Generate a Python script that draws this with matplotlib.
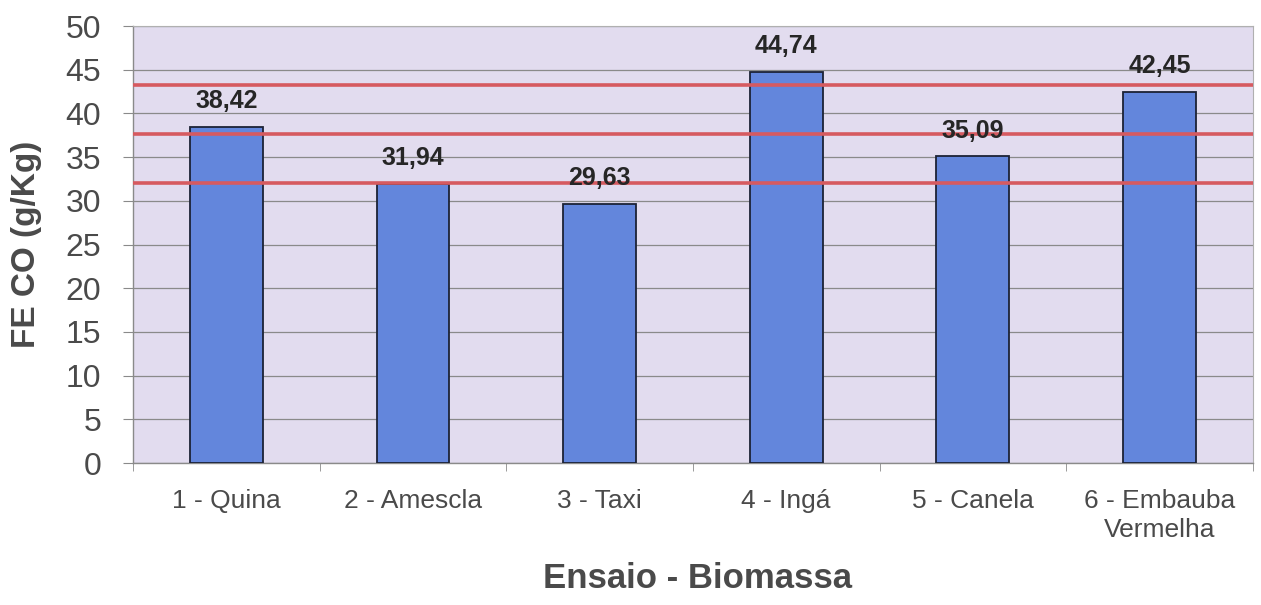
import numpy as np
import matplotlib.pyplot as plt
from matplotlib.ticker import MultipleLocator, FixedLocator

categories = ['1 - Quina', '2 - Amescla', '3 - Taxi', '4 - Ingá', '5 - Canela',
              '6 - Embauba\nVermelha']
fe_co = [38.42, 31.94, 29.63, 44.74, 35.09, 42.45]
labels = ['38,42', '31,94', '29,63', '44,74', '35,09', '42,45']
ref_lines = [43.3, 37.6, 32.0]

plt.rcParams['font.family'] = ['Liberation Sans', 'DejaVu Sans']

fig = plt.figure(figsize=(12.61, 6.05), dpi=100)
ax = fig.add_axes([0.1055, 0.2347, 0.888, 0.7223])
ax.set_facecolor('#e2dcef')

x = np.arange(len(categories))
bars = ax.bar(x, fe_co, width=0.39, color='#6386dc', edgecolor='#1c2235',
              linewidth=1.3, zorder=3)

for xi, v, lab in zip(x, fe_co, labels):
    ax.annotate(lab, (xi, v), xytext=(0, 13.5), textcoords='offset points',
                ha='center', va='baseline', fontsize=18, fontweight='bold',
                color='#262626', zorder=5)

for r in ref_lines:
    ax.axhline(r, color='#d65a60', linewidth=2.6, zorder=4)

ax.set_xlim(-0.5, len(categories) - 0.5)
ax.set_ylim(0, 50)
ax.yaxis.set_major_locator(MultipleLocator(5))
ax.grid(axis='y', color='#8a8a8a', linewidth=0.9, zorder=1)

ax.set_xticks(x)
ax.set_xticklabels(categories, fontsize=19, color='#4a4a4a', linespacing=1.25)
ax.xaxis.set_minor_locator(FixedLocator(np.arange(-0.5, len(categories), 1.0)))
ax.tick_params(axis='x', which='major', length=0, pad=19)
ax.tick_params(axis='x', which='minor', length=6, color='#8a8a8a', direction='out')
ax.tick_params(axis='y', labelsize=23, labelcolor='#4a4a4a', length=7,
               color='#8a8a8a', pad=16)

for s in ['left', 'bottom']:
    ax.spines[s].set_color('#8a8a8a')
    ax.spines[s].set_linewidth(1.0)
for s in ['top', 'right']:
    ax.spines[s].set_color('#b0b0b0')
    ax.spines[s].set_linewidth(0.8)

ax.set_ylabel('FE CO (g/Kg)', fontsize=24, fontweight='bold', color='#4a4a4a',
              labelpad=17)
fig.text(0.553, 0.028, 'Ensaio - Biomassa', fontsize=25, fontweight='bold',
         color='#4a4a4a', ha='center', va='baseline')

plt.savefig('out.png', dpi=100)
